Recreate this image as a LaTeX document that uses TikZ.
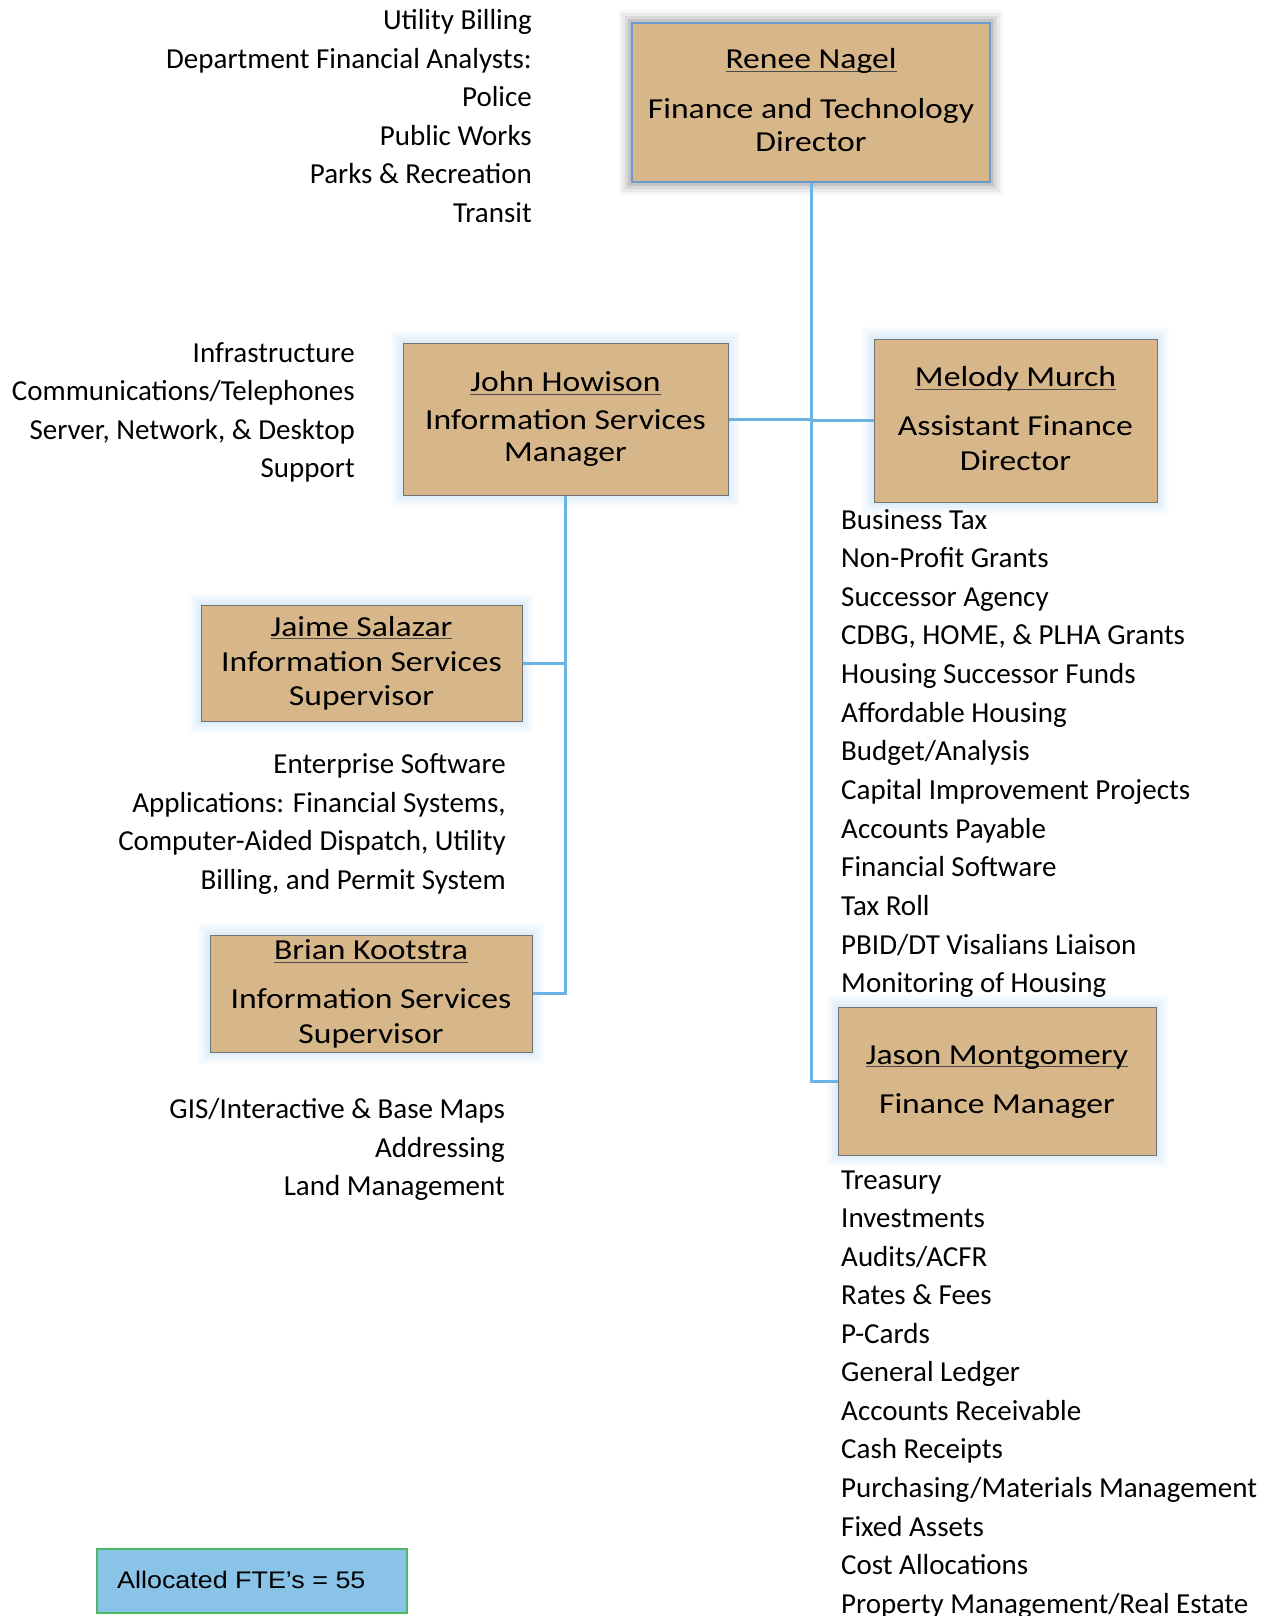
\documentclass[tikz,border=0pt]{standalone}
\usepackage{fontspec}
\setmainfont{Carlito}
\newfontfamily\boxfont[FakeStretch=1.16]{Carlito}
\newfontfamily\ftefont[FakeStretch=1.12]{Liberation Sans}
\definecolor{boxtan}{HTML}{D7B78A}
\definecolor{linkblue}{HTML}{6CB3E5}
\definecolor{glowblue}{HTML}{B5D8F3}
\definecolor{renblue}{HTML}{6A9BCF}
\definecolor{ftefill}{HTML}{89C3E8}
\definecolor{fteline}{HTML}{4DB862}
\newcommand\nameul[1]{\setbox0\hbox{#1}\rlap{\color{black!70}\vrule height -2pt depth 3.2pt width \wd0}\box0}
\tikzset{
  orgbox/.style={rectangle, fill=boxtan, draw=black!55, line width=1pt, inner sep=0pt,
    preaction={draw=glowblue, line width=24pt, opacity=0.08},
    preaction={draw=glowblue, line width=18pt, opacity=0.12},
    preaction={draw=glowblue, line width=12pt, opacity=0.16},
    preaction={draw=glowblue, line width=6pt, opacity=0.2}},
  topbox/.style={rectangle, fill=boxtan, draw=renblue, line width=1.6pt, inner sep=0pt,
    preaction={draw=black, line width=26pt, opacity=0.035},
    preaction={draw=black, line width=20pt, opacity=0.05},
    preaction={draw=black, line width=14pt, opacity=0.07},
    preaction={draw=black, line width=8pt, opacity=0.1}},
  link/.style={draw=linkblue, line width=3pt},
  listl/.style={anchor=base east, inner sep=0pt, font=\fontsize{29}{35}\selectfont},
  listr/.style={anchor=base west, inner sep=0pt, font=\fontsize{29}{35}\selectfont},
  boxtxt/.style={anchor=base, inner sep=0pt, font=\boxfont\fontsize{29}{34}\selectfont},
}
\begin{document}
\begin{tikzpicture}[x=1pt,y=-1pt]
\useasboundingbox (0,0) rectangle (1265,1616);

% boxes
\node[topbox, minimum width=358pt, minimum height=159pt] (renee) at (811,102.5) {};
\node[orgbox, minimum width=325pt, minimum height=152pt] (john) at (565.5,419) {};
\node[orgbox, minimum width=283pt, minimum height=163pt] (melody) at (1015.5,420.5) {};
\node[orgbox, minimum width=321pt, minimum height=116pt] (jaime) at (361.5,663) {};
\node[orgbox, minimum width=322pt, minimum height=117pt] (brian) at (371,993.5) {};
\node[orgbox, minimum width=318pt, minimum height=148pt] (jason) at (997,1081) {};
\node[rectangle, fill=ftefill, draw=fteline, line width=1.8pt, minimum width=310pt, minimum height=64pt, inner sep=0pt] (fte) at (252,1581) {};

% connectors
\draw[link] (renee.south) -- (renee.south |- jason.west) -- (jason.west);
\draw[link] (john.east) -- (john.east -| renee.south);
\draw[link] (melody.west) -- (melody.west -| renee.south);
\draw[link] (john.south) -- (john.south |- brian.east) -- (brian.east);
\draw[link] (jaime.east) -- (jaime.east -| john.south);

% box texts
\node[boxtxt] (renee-n) at (811,69) {\nameul{Renee Nagel}};
\node[boxtxt] (renee-t1) at (811,118.5) {Finance and Technology};
\node[boxtxt] (renee-t2) at (811,152) {Director};

\node[boxtxt] (john-n) at (565.5,391.5) {\nameul{John Howison}};
\node[boxtxt] (john-t1) at (565.5,429) {Information Services};
\node[boxtxt] (john-t2) at (565.5,461.5) {Manager};

\node[boxtxt] (mel-n) at (1015.5,386.5) {\nameul{Melody Murch}};
\node[boxtxt] (mel-t1) at (1015.5,435.5) {Assistant Finance};
\node[boxtxt] (mel-t2) at (1015.5,470.5) {Director};

\node[boxtxt] (jaime-n) at (361.5,636) {\nameul{Jaime Salazar}};
\node[boxtxt] (jaime-t1) at (361.5,671.5) {Information Services};
\node[boxtxt] (jaime-t2) at (361.5,705) {Supervisor};

\node[boxtxt] (brian-n) at (371,959.5) {\nameul{Brian Kootstra}};
\node[boxtxt] (brian-t1) at (371,1008.5) {Information Services};
\node[boxtxt] (brian-t2) at (371,1043.5) {Supervisor};

\node[boxtxt] (jason-n) at (997,1064) {\nameul{Jason Montgomery}};
\node[boxtxt] (jason-t1) at (997,1113.5) {Finance Manager};

\node[anchor=base west, inner sep=0pt, font=\ftefont\fontsize{24}{28}\selectfont] (fte-t) at (117,1588) {Allocated FTE’s = 55};

% left lists
\foreach \t [count=\i from 0] in {Utility Billing, Department Financial Analysts:, Police, Public Works, Parks \& Recreation, Transit}
  \node[listl] (top-\i) at (532,30+38.5*\i) {\t};
\foreach \t [count=\i from 0] in {Infrastructure, Communications/Telephones, {Server, Network, \& Desktop}, Support}
  \node[listl] (john-l\i) at (355,362+38.5*\i) {\t};
\foreach \t [count=\i from 0] in {Enterprise Software, {Applications: Financial Systems,}, {Computer-Aided Dispatch, Utility}, {Billing, and Permit System}}
  \node[listl] (jaime-l\i) at (506,773.5+38.5*\i) {\t};
\foreach \t [count=\i from 0] in {GIS/Interactive \& Base Maps, Addressing, Land Management}
  \node[listl] (brian-l\i) at (505,1118.5+38.5*\i) {\t};

% right lists
\foreach \t [count=\i from 0] in {Business Tax, Non-Profit Grants, Successor Agency, {CDBG, HOME, \& PLHA Grants}, Housing Successor Funds, Affordable Housing, Budget/Analysis, Capital Improvement Projects, Accounts Payable, Financial Software, Tax Roll, PBID/DT Visalians Liaison, Monitoring of Housing}
  \node[listr] (mel-l\i) at (841,529+38.66*\i) {\t};
\foreach \t [count=\i from 0] in {Treasury, Investments, Audits/ACFR, Rates \& Fees, P-Cards, General Ledger, Accounts Receivable, Cash Receipts, Purchasing/Materials Management, Fixed Assets, Cost Allocations, Property Management/Real Estate}
  \node[listr] (jason-l\i) at (841,1189+38.56*\i) {\t};
\end{tikzpicture}
\end{document}
